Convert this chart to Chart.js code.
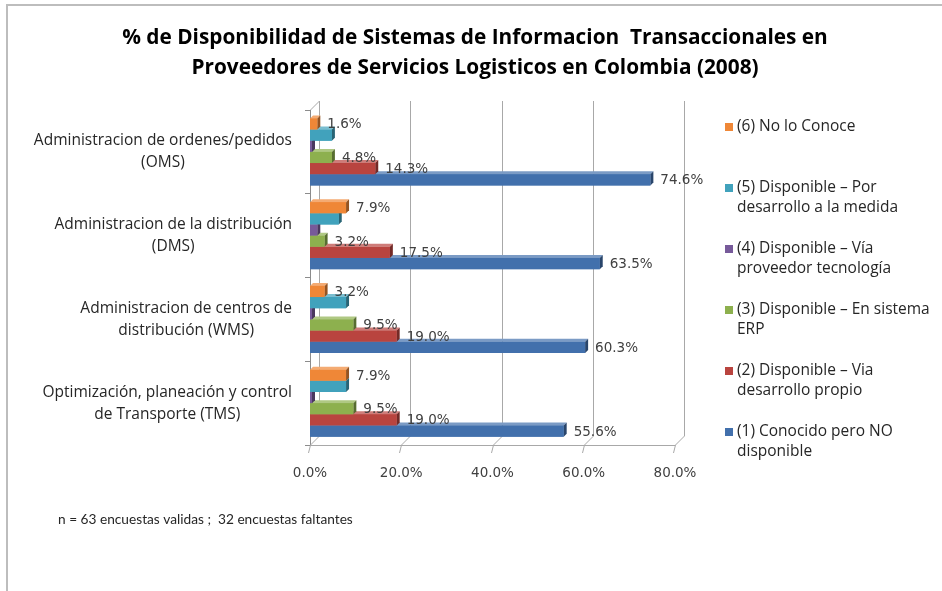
<!DOCTYPE html>
<html>
<head>
<meta charset="utf-8">
<title>Disponibilidad de Sistemas de Informacion</title>
<script src="https://cdn.jsdelivr.net/npm/chart.js@4.4.1/dist/chart.umd.min.js"></script>
<style>
  html, body { margin: 0; padding: 0; background: #fff; }
  #wrap { position: relative; width: 942px; height: 591px; overflow: hidden; }
  #frame {
    position: absolute; left: 6px; top: 4px; right: -4px; bottom: -4px;
    border-top: 2px solid #bdbdbd; border-left: 2px solid #bdbdbd;
    pointer-events: none;
  }
  canvas { position: absolute; left: 0; top: 0; }
</style>
</head>
<body>
<div id="wrap">
  <canvas id="chart" width="942" height="591"></canvas>
  <div id="frame"></div>
</div>
<script>
const categories = [
  ["Administracion de ordenes/pedidos", "(OMS)"],
  ["Administracion de la distribución", "(DMS)"],
  ["Administracion de centros de", "distribución (WMS)"],
  ["Optimización, planeación y control", "de Transporte (TMS)"]
];

// legend text, one entry per series (top to bottom)
const seriesNames = [
  ["(6) No lo Conoce"],
  ["(5) Disponible – Por", "desarrollo a la medida"],
  ["(4) Disponible – Vía", "proveedor tecnología"],
  ["(3) Disponible – En sistema", "ERP"],
  ["(2) Disponible – Via", "desarrollo propio"],
  ["(1) Conocido pero NO", "disponible"]
];

const noConoce = [1.6, 7.9, 3.2, 7.9];
const porDesarrollo = [4.8, 6.3, 7.9, 7.9];
const viaProveedor = [0, 1.6, 0, 0];
const enSistemaErp = [4.8, 3.2, 9.5, 9.5];
const desarrolloPropio = [14.3, 17.5, 19.0, 19.0];
const noDisponible = [74.6, 63.5, 60.3, 55.6];

const xTicks = [0, 20, 40, 60, 80];

const titleLines = [
  "% de Disponibilidad de Sistemas de Informacion  Transaccionales en",
  "Proveedores de Servicios Logisticos en Colombia (2008)"
];
const footnote = "n = 63 encuestas validas ;  32 encuestas faltantes";

const colors = ["#ef8737", "#41a2bc", "#775a9a", "#8db04e", "#b9443f", "#4270ac"];
const seriesValues = [noConoce, porDesarrollo, viaProveedor, enSistemaErp, desarrolloPropio, noDisponible];
const showValue = [true, false, false, true, true, true];

const DEPTH = 3;   // bar extrusion
const WALL = 9;    // back wall offset

function shade(hex, f) {
  const n = parseInt(hex.slice(1), 16);
  const ch = [(n >> 16) & 255, (n >> 8) & 255, n & 255].map(c =>
    f > 1 ? Math.round(c + (255 - c) * (f - 1)) : Math.round(c * f));
  return "rgb(" + ch.join(",") + ")";
}

function poly(ctx, pts) {
  ctx.beginPath();
  pts.forEach((p, i) => (i ? ctx.lineTo(p[0], p[1]) : ctx.moveTo(p[0], p[1])));
  ctx.closePath();
  ctx.fill();
}

// back wall grid + floor edges
const wallPlugin = {
  id: "wall",
  beforeDatasetsDraw(chart) {
    const { ctx, chartArea: a, scales: { x } } = chart;
    ctx.save();
    ctx.strokeStyle = "#a8a8a8";
    ctx.lineWidth = 1;
    xTicks.forEach(v => {
      const px = Math.round(x.getPixelForValue(v)) + 0.5;
      ctx.beginPath();
      ctx.moveTo(px + WALL, a.top - WALL);
      ctx.lineTo(px + WALL, a.bottom - WALL);
      ctx.lineTo(px, a.bottom);
      ctx.lineTo(px - 2, a.bottom + 8);
      ctx.stroke();
    });
    ctx.beginPath();
    ctx.moveTo(a.left + 0.5, a.top);
    ctx.lineTo(a.left + WALL + 0.5, a.top - WALL);
    ctx.moveTo(a.left, a.bottom + 0.5);
    ctx.lineTo(a.right, a.bottom + 0.5);
    ctx.stroke();
    ctx.restore();
  }
};

// side and top faces of the bars, value labels
const barPlugin = {
  id: "bars3d",
  afterDatasetsDraw(chart) {
    const ctx = chart.ctx;
    const sets = chart.data.datasets;
    ctx.save();
    for (let d = sets.length - 1; d >= 0; d--) {
      const color = sets[d].backgroundColor;
      chart.getDatasetMeta(d).data.forEach(bar => {
        const { x, y, base, height } = bar.getProps(["x", "y", "base", "height"], true);
        const top = y - height / 2, bottom = y + height / 2;
        ctx.fillStyle = shade(color, 1.3);
        poly(ctx, [[base, top], [x, top], [x + DEPTH, top - DEPTH], [base + DEPTH, top - DEPTH]]);
        ctx.fillStyle = shade(color, 0.62);
        poly(ctx, [[x, top], [x + DEPTH, top - DEPTH], [x + DEPTH, bottom - DEPTH], [x, bottom]]);
        ctx.fillStyle = color;
        ctx.fillRect(base, top, x - base, height);
      });
    }
    ctx.font = "13.5px 'DejaVu Sans'";
    ctx.fillStyle = "#404040";
    ctx.textAlign = "left";
    ctx.textBaseline = "middle";
    sets.forEach((ds, d) => {
      if (!showValue[d]) return;
      chart.getDatasetMeta(d).data.forEach((bar, i) => {
        ctx.fillText(ds.data[i].toFixed(1) + "%", bar.x + 10, bar.y + 1);
      });
    });
    ctx.restore();
  }
};

// title, category labels, legend and footnote
const textPlugin = {
  id: "texts",
  afterDraw(chart) {
    const { ctx, scales: { y } } = chart;
    ctx.save();
    ctx.textBaseline = "middle";
    ctx.textAlign = "center";

    ctx.fillStyle = "#000";
    ctx.font = "bold 20.8px 'Open Sans'";
    titleLines.forEach((l, j) => ctx.fillText(l, 475, 38 + j * 30));

    ctx.fillStyle = "#262626";
    ctx.font = "15.5px 'Open Sans'";
    categories.forEach((lines, i) => {
      const cy = y.getPixelForTick(i);
      const w = Math.max(...lines.map(l => ctx.measureText(l).width));
      const cx = 292 - w / 2;
      lines.forEach((l, j) => ctx.fillText(l, cx, cy + (j - (lines.length - 1) / 2) * 22));
    });

    ctx.textAlign = "left";
    ctx.font = "15.5px 'Open Sans'";
    seriesNames.forEach((lines, i) => {
      const ty = 127 + i * 61;
      ctx.fillStyle = colors[i];
      ctx.fillRect(725, ty - 4, 8, 8);
      ctx.fillStyle = "#262626";
      lines.forEach((l, j) => ctx.fillText(l, 737, ty + j * 20));
    });

    ctx.font = "13.7px Lato";
    ctx.fillText(footnote, 58, 520);
    ctx.restore();
  }
};

new Chart(document.getElementById("chart"), {
  type: "bar",
  data: {
    labels: categories.map(c => c.join(" ")),
    datasets: seriesNames.map((name, i) => ({
      label: name.join(" "),
      data: seriesValues[i],
      backgroundColor: colors[i],
      borderWidth: 0,
      minBarLength: i === 2 ? 2 : 0,
      categoryPercentage: 0.8,
      barPercentage: 1.0
    }))
  },
  options: {
    indexAxis: "y",
    responsive: false,
    animation: false,
    events: [],
    layout: { padding: { left: 0, right: 267, top: 110, bottom: 0 } },
    plugins: {
      legend: { display: false },
      tooltip: { enabled: false },
      title: { display: false }
    },
    scales: {
      x: {
        min: 0,
        max: 80,
        afterBuildTicks: scale => { scale.ticks = xTicks.map(v => ({ value: v })); },
        afterFit: scale => { scale.height = 146; },
        grid: { display: false, drawTicks: false },
        border: { display: false },
        ticks: {
          callback: v => v.toFixed(1) + "%",
          color: "#404040",
          font: { family: "DejaVu Sans", size: 13.5 },
          padding: 20,
          maxRotation: 0
        }
      },
      y: {
        afterFit: scale => { scale.width = 310; },
        grid: { drawOnChartArea: false, color: "#8c8c8c", tickLength: 5 },
        border: { display: true, color: "#8c8c8c" },
        ticks: { display: false }
      }
    }
  },
  plugins: [wallPlugin, barPlugin, textPlugin]
});
</script>
</body>
</html>
